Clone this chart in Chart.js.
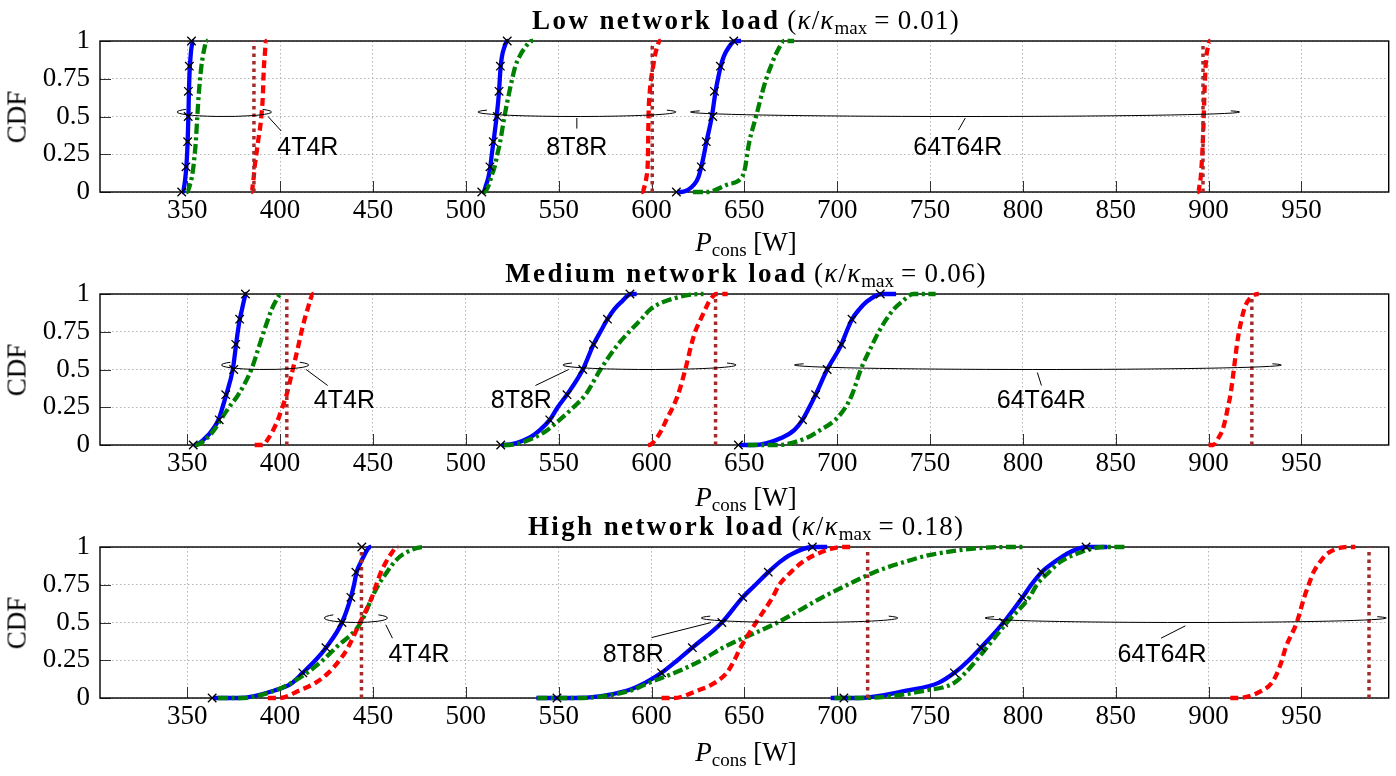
<!DOCTYPE html>
<html>
<head>
<meta charset="utf-8">
<script src="https://cdn.jsdelivr.net/npm/chart.js@4.4.1/dist/chart.umd.min.js"></script>
<style>
  html, body { margin: 0; padding: 0; background: #fff; }
  body { position: relative; width: 1396px; height: 776px; overflow: hidden; font-family: 'Liberation Serif', serif; color: #000; }
  .panel { position: absolute; left: 0; width: 1396px; height: 253px; }
  .panel canvas { position: absolute; left: 0; top: 0; }
  .title, .xlabel { position: absolute; left: 100px; width: 1292px; text-align: center; font-size: 27px; line-height: 27px; white-space: nowrap; }
  .title b { letter-spacing: 2.4px; }
  .title span { letter-spacing: 1.2px; }
  .title .eq { margin: 0 7px; }
  sub { font-size: 19px; line-height: 0; vertical-align: -5px; letter-spacing: 0; }
  .cdf { position: absolute; left: 17px; font-size: 27px; line-height: 27px; white-space: nowrap; transform: translate(-50%, -50%) rotate(-90deg); }
</style>
</head>
<body>
<script>
// CDF levels at which every curve is sampled (head and tail are flat at 0 / 1)
const LEVELS = [0, 0, 0.05, 0.1, 1/6, 0.25, 1/3, 0.5, 2/3, 0.75, 5/6, 0.9, 0.95, 1, 1];
// CDF levels of the "x" marks on the solid curves
const MARK_LEVELS = [0, 1/6, 2/6, 3/6, 4/6, 5/6, 1];

const X_TICKS = [350, 400, 450, 500, 550, 600, 650, 700, 750, 800, 850, 900, 950];
const Y_TICKS = [0, 0.25, 0.5, 0.75, 1];
const X_MIN = 303;
const X_MAX = 997;

const LOADS = ['Low', 'Medium', 'High'];
const KAPPA = [0.01, 0.06, 0.18];
const CONFIGS = ['4T4R', '8T8R', '64T64R'];

// ---- Low network load: one row per antenna config (4T4R, 8T8R, 64T64R) ----
const lowBlue = [
  [347.2, 347.6, 348.5, 349.0, 349.5, 349.9, 350.2, 350.6, 350.9, 351.1, 351.4, 351.8, 352.2, 353.3, 353.7],
  [509.0, 509.4, 511.0, 512.2, 513.2, 514.0, 514.9, 516.6, 517.9, 518.3, 518.8, 519.5, 520.5, 522.5, 523.0],
  [613.8, 616.0, 623.0, 625.3, 626.8, 628.3, 629.6, 632.5, 634.5, 635.8, 637.3, 639.0, 641.2, 645.0, 648.2]
];
const lowGreen = [
  [349.6, 350.0, 351.5, 352.5, 353.3, 354.0, 354.6, 355.4, 356.3, 356.9, 357.6, 358.4, 359.2, 360.3, 361.0],
  [509.8, 510.2, 512.5, 513.7, 515.5, 517.0, 518.5, 520.8, 523.5, 525.0, 526.7, 529.0, 531.5, 535.5, 536.2],
  [622.3, 630.0, 641.0, 648.8, 650.5, 651.5, 652.7, 656.3, 659.8, 661.8, 664.3, 666.5, 668.5, 671.4, 676.8]
];
const lowRed = [
  [384.5, 384.8, 385.3, 385.8, 386.3, 387.2, 388.1, 389.9, 390.8, 391.0, 391.3, 391.7, 392.0, 392.5, 392.8],
  [594.6, 595.0, 596.5, 597.3, 597.9, 598.1, 598.2, 598.4, 599.1, 599.8, 600.9, 601.8, 602.8, 604.5, 605.0],
  [894.0, 894.4, 895.2, 895.8, 896.2, 896.6, 896.9, 897.4, 897.8, 898.1, 898.4, 898.8, 899.5, 900.6, 900.9]
];
const lowBrown = [385.9, 600.4, 897.0];
const lowMarks = [
  [347.0, 349.3, 350.2, 350.5, 350.6, 351.1, 352.3],
  [508.6, 513.0, 514.8, 517.0, 517.9, 518.6, 522.3],
  [613.4, 626.8, 629.5, 633.0, 633.9, 637.1, 644.3]
];

// ---- Medium network load ----
const medBlue = [
  [353.5, 354.0, 360.0, 363.5, 366.8, 369.0, 371.0, 374.5, 376.3, 377.2, 378.3, 379.5, 380.4, 381.6, 382.0],
  [519.5, 521.0, 534.5, 540.0, 545.2, 549.5, 554.5, 563.0, 568.8, 572.5, 576.3, 580.0, 584.0, 589.0, 592.0],
  [647.5, 655.0, 670.5, 677.0, 681.3, 685.0, 688.4, 694.6, 702.3, 705.0, 708.0, 712.0, 716.0, 724.0, 731.7]
];
const medGreen = [
  [354.1, 354.6, 361.0, 364.5, 368.0, 372.5, 377.5, 384.5, 389.0, 391.2, 393.5, 395.5, 397.5, 400.6, 401.0],
  [520.5, 523.0, 537.0, 544.0, 550.5, 558.0, 564.5, 572.5, 582.0, 588.0, 594.5, 599.5, 607.0, 626.8, 628.0],
  [651.8, 668.0, 684.0, 691.0, 699.0, 704.5, 708.0, 712.7, 719.0, 722.4, 726.5, 730.5, 735.0, 741.0, 753.0]
];
const medRed = [
  [386.3, 390.5, 394.0, 396.3, 398.8, 401.2, 403.5, 406.8, 410.0, 411.5, 413.2, 414.8, 416.0, 417.6, 418.0],
  [598.2, 598.6, 603.0, 605.5, 608.0, 611.5, 614.3, 618.2, 621.5, 623.5, 626.5, 629.0, 631.0, 635.0, 641.0],
  [900.0, 902.5, 905.5, 907.5, 909.0, 910.4, 911.8, 913.6, 915.3, 916.4, 917.8, 919.2, 921.0, 926.5, 927.0]
];
const medBrown = [403.6, 634.5, 923.3];
const medMarks = [
  [353.2, 367.2, 370.7, 375.0, 376.1, 378.2, 381.3],
  [518.8, 545.2, 554.5, 563.0, 568.8, 576.3, 588.4],
  [646.8, 681.3, 688.4, 694.6, 702.3, 708.0, 723.2]
];

// ---- High network load ----
const highBlue = [
  [364.0, 378.0, 397.0, 406.5, 412.2, 419.0, 424.7, 433.3, 438.1, 439.8, 441.2, 443.5, 445.5, 448.5, 449.0],
  [538.0, 558.0, 587.0, 596.5, 605.4, 614.0, 622.0, 637.9, 649.1, 656.0, 662.9, 669.0, 675.0, 686.6, 694.6],
  [696.5, 712.0, 738.0, 754.5, 763.1, 770.9, 777.4, 789.6, 799.8, 804.5, 810.1, 817.0, 823.0, 834.0, 845.5]
];
const highGreen = [
  [366.6, 378.5, 397.5, 406.0, 414.5, 423.0, 430.0, 443.5, 449.5, 453.0, 457.5, 461.5, 466.0, 477.5, 478.0],
  [538.5, 560.5, 589.0, 598.5, 612.5, 627.0, 638.5, 667.9, 692.0, 705.6, 720.0, 736.0, 751.0, 792.0, 800.0],
  [698.5, 714.0, 748.0, 763.0, 769.0, 775.0, 780.5, 791.4, 803.5, 807.5, 814.0, 820.0, 828.0, 843.7, 855.8]
];
const highRed = [
  [393.4, 400.0, 410.5, 419.0, 426.0, 432.0, 436.5, 443.0, 449.4, 451.8, 454.3, 457.0, 459.5, 463.2, 463.6],
  [605.4, 612.0, 625.0, 634.0, 640.5, 644.6, 647.9, 656.3, 665.2, 668.8, 675.0, 681.3, 688.4, 703.0, 707.0],
  [911.7, 915.5, 929.0, 934.0, 937.0, 939.5, 941.5, 947.5, 951.5, 953.9, 956.5, 960.0, 963.3, 975.0, 979.0]
];
const highBrown = [443.8, 716.4, 986.4];
const highMarks = [
  [363.4, 412.2, 424.7, 433.3, 438.1, 440.8, 444.0],
  [549.1, 605.4, 622.0, 637.9, 649.1, 662.9, 686.6],
  [703.6, 763.1, 777.4, 789.6, 799.8, 810.1, 834.0]
];

// annotation layout (data units): ellipse span at CDF 0.5, leader line, label centre
const lowNotes = [
  { span: [344.5, 395.4], lead: [393.5, 0.5, 400.6, 0.404], at: [414.9, 0.293] },
  { span: [506.5, 613.1], lead: [559.8, 0.49, 559.8, 0.42], at: [559.8, 0.293] },
  { span: [621.1, 916.8], lead: [769.0, 0.49, 765.3, 0.41], at: [764.9, 0.293] }
];
const medNotes = [
  { span: [368.4, 415.4], lead: [414.0, 0.5, 425.6, 0.394], at: [434.6, 0.29] },
  { span: [552.3, 645.5], lead: [555.4, 0.5, 537.5, 0.394], at: [529.9, 0.29] },
  { span: [677.1, 939.2], lead: [807.8, 0.48, 810.0, 0.394], at: [809.9, 0.29] }
];
const highNotes = [
  { span: [423.8, 457.8], lead: [456.9, 0.485, 460.5, 0.396], at: [474.8, 0.282] },
  { span: [626.8, 732.6], lead: [632.1, 0.5, 600.0, 0.40], at: [590.2, 0.282] },
  { span: [779.7, 995.7], lead: [887.5, 0.478, 874.4, 0.396], at: [874.9, 0.282] }
];

const PANELS = [
  { blue: lowBlue, green: lowGreen, red: lowRed, brown: lowBrown, marks: lowMarks, notes: lowNotes },
  { blue: medBlue, green: medGreen, red: medRed, brown: medBrown, marks: medMarks, notes: medNotes },
  { blue: highBlue, green: highGreen, red: highRed, brown: highBrown, marks: highMarks, notes: highNotes }
];

const PANEL_TOP = [0, 253, 506];
const XLABEL_BASE = [251.7, 506.5, 761.5];

const BLUE = '#0000ff';
const GREEN = '#008000';
const RED = '#ff0000';
const BROWN = '#a52a2a';
const GRID = '#b4b4b4';
const SERIF = "'Liberation Serif', serif";

// frame, inward tick marks, ellipses with labels
const decorations = {
  id: 'notes',
  beforeDatasetsDraw(chart) {
    const { ctx, chartArea: a, scales: { x, y } } = chart;
    ctx.save();
    ctx.strokeStyle = '#333';
    ctx.lineWidth = 1;
    X_TICKS.forEach(v => {
      const px = Math.round(x.getPixelForValue(v)) + 0.5;
      ctx.beginPath(); ctx.moveTo(px, a.bottom); ctx.lineTo(px, a.bottom - 11); ctx.stroke();
    });
    Y_TICKS.forEach(v => {
      const py = Math.round(y.getPixelForValue(v)) + 0.5;
      ctx.beginPath(); ctx.moveTo(a.left, py); ctx.lineTo(a.left + 11, py); ctx.stroke();
    });
    ctx.strokeStyle = '#000';
    ctx.lineWidth = 1.4;
    ctx.strokeRect(a.left, a.top, a.right - a.left, a.bottom - a.top);
    ctx.restore();
  },
  afterDatasetsDraw(chart, args, opts) {
    const { ctx, scales: { x, y } } = chart;
    ctx.save();
    ctx.strokeStyle = '#000';
    ctx.fillStyle = '#000';
    ctx.lineWidth = 1;
    ctx.font = "25px 'Liberation Sans', sans-serif";
    ctx.textAlign = 'center';
    ctx.textBaseline = 'middle';
    (opts.items || []).forEach((n, i) => {
      const x1 = x.getPixelForValue(n.span[0]);
      const x2 = x.getPixelForValue(n.span[1]);
      const rx = (x2 - x1) / 2;
      const ry = 4.5;
      const cy = y.getPixelForValue(0.5) - ry;
      const t0 = Math.acos(Math.max(-1, 1 - 9 / rx));
      ctx.beginPath();
      ctx.ellipse(x1 + rx, cy, rx, ry, 0, -t0, Math.PI + t0);
      ctx.stroke();
      ctx.beginPath();
      ctx.moveTo(x.getPixelForValue(n.lead[0]), y.getPixelForValue(n.lead[1]));
      ctx.lineTo(x.getPixelForValue(n.lead[2]), y.getPixelForValue(n.lead[3]));
      ctx.stroke();
      ctx.fillText(CONFIGS[i], x.getPixelForValue(n.at[0]), y.getPixelForValue(n.at[1]));
    });
    ctx.restore();
  }
};

function curve(label, xs, color, dash, order) {
  return {
    label, order,
    data: LEVELS.map((p, i) => ({ x: xs[i], y: p })),
    borderColor: color, borderWidth: 4.3, borderDash: dash,
    pointRadius: 0, cubicInterpolationMode: 'monotone', fill: false, clip: false
  };
}

function buildDatasets(panel) {
  const sets = [];
  CONFIGS.forEach((cfg, g) => {
    sets.push(curve(cfg + ' solid', panel.blue[g], BLUE, [], 4));
    sets.push(curve(cfg + ' dash-dot', panel.green[g], GREEN, [10, 3.5, 3, 3.5], 3));
    sets.push(curve(cfg + ' dashed', panel.red[g], RED, [8, 4.5], 2));
    sets.push({
      label: cfg + ' dotted', order: 1,
      data: [{ x: panel.brown[g], y: 0 }, { x: panel.brown[g], y: 1 }],
      borderColor: BROWN, borderWidth: 3.5, borderDash: [3.5, 4],
      pointRadius: 0, tension: 0, fill: false, clip: false
    });
    sets.push({
      label: cfg + ' marks', order: 0,
      data: MARK_LEVELS.map((p, i) => ({ x: panel.marks[g][i], y: p })),
      showLine: false, pointStyle: 'crossRot', pointRadius: 6,
      pointBorderColor: '#000', pointBorderWidth: 1.3, pointBackgroundColor: 'rgba(0,0,0,0)',
      clip: false
    });
  });
  return sets;
}

PANELS.forEach((panel, i) => {
  const top = PANEL_TOP[i];

  const box = document.createElement('div');
  box.className = 'panel';
  box.style.top = top + 'px';
  const canvas = document.createElement('canvas');
  canvas.width = 1396;
  canvas.height = 253;
  box.appendChild(canvas);
  document.body.appendChild(box);

  const title = document.createElement('div');
  title.className = 'title';
  title.style.top = (top + 6.7) + 'px';
  title.innerHTML = '<b>' + LOADS[i] + ' network load</b> <span>(<i>κ</i>/<i>κ</i><sub>max</sub><span class="eq">=</span>' + KAPPA[i].toFixed(2) + ')</span>';
  document.body.appendChild(title);

  const xl = document.createElement('div');
  xl.className = 'xlabel';
  xl.style.top = (XLABEL_BASE[i] - 22.6) + 'px';
  xl.innerHTML = '<i>P</i><sub>cons</sub> [W]';
  document.body.appendChild(xl);

  const yl = document.createElement('div');
  yl.className = 'cdf';
  yl.style.top = (top + 41 + 75.5) + 'px';
  yl.textContent = 'CDF';
  document.body.appendChild(yl);

  new Chart(canvas.getContext('2d'), {
    type: 'line',
    data: { datasets: buildDatasets(panel) },
    options: {
      responsive: false,
      animation: false,
      events: [],
      layout: { padding: { left: 0, right: 4, top: 41, bottom: 21 } },
      plugins: {
        legend: { display: false },
        tooltip: { enabled: false },
        notes: { items: panel.notes }
      },
      scales: {
        x: {
          type: 'linear', min: X_MIN, max: X_MAX,
          afterBuildTicks: s => { s.ticks = X_TICKS.map(v => ({ value: v })); },
          afterFit: s => { s.height = 40; },
          ticks: { color: '#000', padding: 3, autoSkip: false, maxRotation: 0,
                   font: { family: SERIF, size: 27 }, callback: v => String(v) },
          grid: { color: GRID, lineWidth: 1, drawTicks: false },
          border: { display: false, dash: [1.5, 2.5] }
        },
        y: {
          type: 'linear', min: 0, max: 1,
          afterBuildTicks: s => { s.ticks = Y_TICKS.map(v => ({ value: v })); },
          afterFit: s => { s.width = 100; },
          ticks: { color: '#000', padding: 10,
                   font: { family: SERIF, size: 27 }, callback: v => String(v) },
          grid: { color: GRID, lineWidth: 1, drawTicks: false },
          border: { display: false, dash: [1.5, 2.5] }
        }
      }
    },
    plugins: [decorations]
  });
});
</script>
</body>
</html>
